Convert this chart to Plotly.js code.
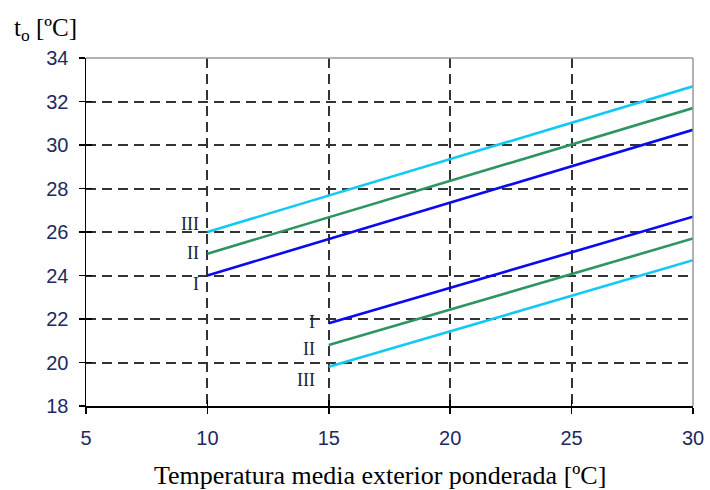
<!DOCTYPE html>
<html><head><meta charset="utf-8">
<script src="https://cdn.plot.ly/plotly-3.0.1.min.js"></script>
<style>body{margin:0;background:#fff}</style>
</head><body>
<div id="chart" style="width:710px;height:490px"></div>
<script>
const xUpper = [10, 30];
const upperI = [24, 30.7];
const upperII = [25, 31.7];
const upperIII = [26, 32.7];
const xLower = [15, 30];
const lowerI = [21.8, 26.7];
const lowerII = [20.8, 25.7];
const lowerIII = [19.8, 24.7];
const xTicks = [5, 10, 15, 20, 25, 30];
const yTicks = [18, 20, 22, 24, 26, 28, 30, 32, 34];
const labelText = ['I', 'II', 'III'];
const upperLabelY = [23.62, 25.04, 26.37];
const lowerLabelY = [21.88, 20.6, 19.18];

const cBlue = '#0a0af0', cGreen = '#2e9460', cCyan = '#14c8f5';
function line(x, y, c) {
  return {x: x, y: y, type: 'scatter', mode: 'lines', line: {color: c, width: 2.6}, hoverinfo: 'skip', showlegend: false};
}
const data = [
  line(xUpper, upperI, cBlue), line(xUpper, upperII, cGreen), line(xUpper, upperIII, cCyan),
  line(xLower, lowerI, cBlue), line(xLower, lowerII, cGreen), line(xLower, lowerIII, cCyan),
  {x: [5], y: [18], xaxis: 'x2', yaxis: 'y2', mode: 'markers', marker: {opacity: 0}, hoverinfo: 'skip', showlegend: false}
];
const annotations = [];
labelText.forEach((t, i) => {
  annotations.push({x: 9.75, y: upperLabelY[i], xref: 'x', yref: 'y', text: t, showarrow: false, xanchor: 'right', yanchor: 'middle', font: {family: 'Liberation Serif', size: 18, color: '#222'}});
  annotations.push({x: 14.5, y: lowerLabelY[i], xref: 'x', yref: 'y', text: t, showarrow: false, xanchor: 'right', yanchor: 'middle', font: {family: 'Liberation Serif', size: 18, color: '#222'}});
});
annotations.push({x: -0.122, y: 1.032, xref: 'paper', yref: 'paper', text: 't<sub>o</sub> [ºC]', showarrow: false, xanchor: 'left', yanchor: 'bottom', font: {family: 'Liberation Serif', size: 25, color: '#000'}});
annotations.push({x: 0.4843, y: -0.199, xref: 'paper', yref: 'paper', text: 'Temperatura media exterior ponderada [ºC]', showarrow: false, xanchor: 'center', yanchor: 'middle', font: {family: 'Liberation Serif', size: 26, color: '#000'}});

const tickFont = {family: 'Liberation Sans', size: 20, color: '#1c2a5e'};
const gridDash = '10px,6px';
const layout = {
  width: 710, height: 490,
  margin: {l: 86, r: 17, t: 58, b: 84},
  paper_bgcolor: '#fff', plot_bgcolor: '#fff',
  showlegend: false,
  xaxis: {range: [5, 30], tickvals: xTicks, ticks: 'outside', ticklen: 6, tickcolor: '#000', tickwidth: 1.5,
    showgrid: true, gridcolor: '#333', griddash: gridDash, gridwidth: 2, zeroline: false,
    showline: true, linecolor: '#000', linewidth: 1.5, mirror: false, tickfont: tickFont, ticklabelstandoff: 7},
  yaxis: {range: [18, 34], tickvals: yTicks, ticks: 'outside', ticklen: 6, tickcolor: '#000', tickwidth: 1.5,
    showgrid: true, gridcolor: '#333', griddash: gridDash, gridwidth: 2, zeroline: false,
    showline: true, linecolor: '#000', linewidth: 1.5, mirror: false, tickfont: tickFont, ticklabelstandoff: 6},
  xaxis2: {overlaying: 'x', range: [5, 30], tickvals: xTicks, ticks: 'inside', ticklen: 6, tickcolor: '#000', tickwidth: 1.5,
    showticklabels: false, showgrid: false, zeroline: false, showline: false},
  yaxis2: {overlaying: 'y', range: [18, 34], tickvals: yTicks, ticks: 'inside', ticklen: 6, tickcolor: '#000', tickwidth: 1.5,
    showticklabels: false, showgrid: false, zeroline: false, showline: false},
  shapes: [
    {type: 'line', xref: 'paper', yref: 'paper', x0: 0, x1: 1, y0: 1, y1: 1, line: {color: '#999', width: 1.5}},
    {type: 'line', xref: 'paper', yref: 'paper', x0: 1, x1: 1, y0: 0, y1: 1, line: {color: '#999', width: 1.5}}
  ],
  annotations: annotations
};
Plotly.newPlot('chart', data, layout, {displayModeBar: false, staticPlot: true});
</script>
</body></html>
